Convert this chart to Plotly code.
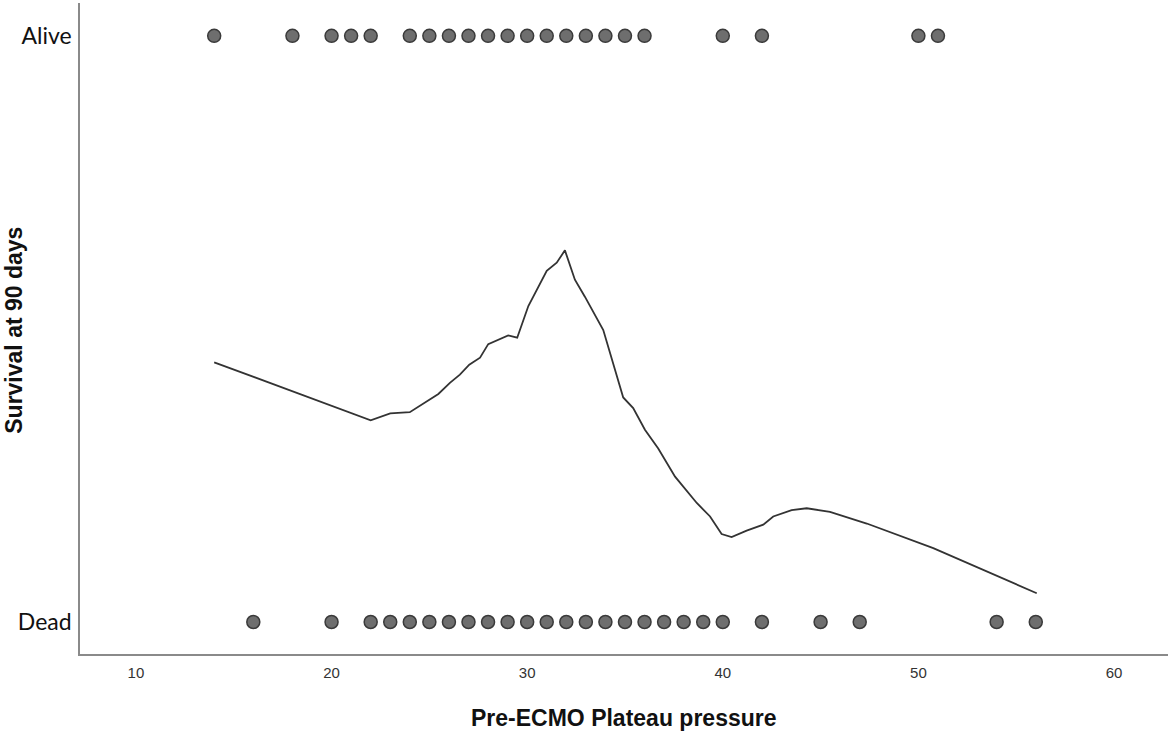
import plotly.graph_objects as go

# Scatter data: pre-ECMO plateau pressure by 90-day survival
alive_x = [14, 18, 20, 21, 22, 24, 25, 26, 27, 28, 29, 30, 31, 32, 33, 34, 35, 36, 40, 42, 50, 51]
dead_x = [16, 20, 22, 23, 24, 25, 26, 27, 28, 29, 30, 31, 32, 33, 34, 35, 36, 37, 38, 39, 40, 42, 45, 47, 54, 56]

# Loess fit line
fit_x = [14.0, 22.0, 23.0, 24.0, 25.46, 26.05, 26.56, 27.04, 27.59, 28.01, 29.03, 29.49, 30.06,
         31.0, 31.51, 31.93, 32.44, 32.95, 33.89, 34.91, 35.42, 36.02, 36.70, 37.56, 38.67,
         39.35, 39.94, 40.45, 41.22, 42.07, 42.58, 43.52, 44.29, 45.48, 47.36, 50.76, 56.05]
fit_y = [0.443, 0.344, 0.356, 0.358, 0.389, 0.408, 0.422, 0.439, 0.451, 0.474, 0.489, 0.485, 0.539,
         0.599, 0.613, 0.634, 0.584, 0.555, 0.498, 0.383, 0.365, 0.328, 0.296, 0.248, 0.203,
         0.180, 0.150, 0.145, 0.156, 0.166, 0.180, 0.191, 0.194, 0.188, 0.168, 0.126, 0.049]

y_tickvals = [0, 1]
y_ticktext = ["Dead", "Alive"]
x_tickvals = [10, 20, 30, 40, 50, 60]

marker = dict(size=13, color="#6e6e6e", line=dict(color="#3a3a3a", width=1.5))

fig = go.Figure()
fig.add_trace(go.Scatter(x=fit_x, y=fit_y, mode="lines",
                         line=dict(color="#333333", width=1.8), hoverinfo="skip"))
fig.add_trace(go.Scatter(x=alive_x, y=[1] * len(alive_x), mode="markers", marker=marker))
fig.add_trace(go.Scatter(x=dead_x, y=[0] * len(dead_x), mode="markers", marker=marker))

fig.update_layout(
    width=1170, height=735,
    margin=dict(l=80, r=2, t=3, b=81),
    paper_bgcolor="white", plot_bgcolor="white",
    showlegend=False,
    xaxis=dict(range=[7.14, 62.76], tickvals=x_tickvals, showgrid=False, zeroline=False,
               showline=True, linecolor="#8a8a8a", linewidth=1.5, ticks="",
               ticklabelstandoff=4,
               tickfont=dict(family="Liberation Sans, Arial", size=15, color="#333333")),
    yaxis=dict(range=[-0.0546, 1.056], tickvals=y_tickvals, ticktext=y_ticktext,
               showgrid=False, zeroline=False, showline=True, linecolor="#8a8a8a",
               linewidth=1.5, ticks="", ticklabelstandoff=2,
               tickfont=dict(family="Lato, Open Sans", size=23, color="#111111")),
    annotations=[
        dict(text="<b>Pre-ECMO Plateau pressure</b>", xref="paper", yref="paper",
             x=0.5, y=-0.098, xanchor="center", yanchor="middle", showarrow=False,
             font=dict(family="Liberation Sans, Arial", size=23, color="#111111")),
        dict(text="<b>Survival at 90 days</b>", xref="paper", yref="paper",
             x=-0.0607, y=0.498, xanchor="center", yanchor="middle", showarrow=False,
             textangle=-90,
             font=dict(family="Liberation Sans, Arial", size=23, color="#111111")),
    ],
)

fig.write_html("out.html")
